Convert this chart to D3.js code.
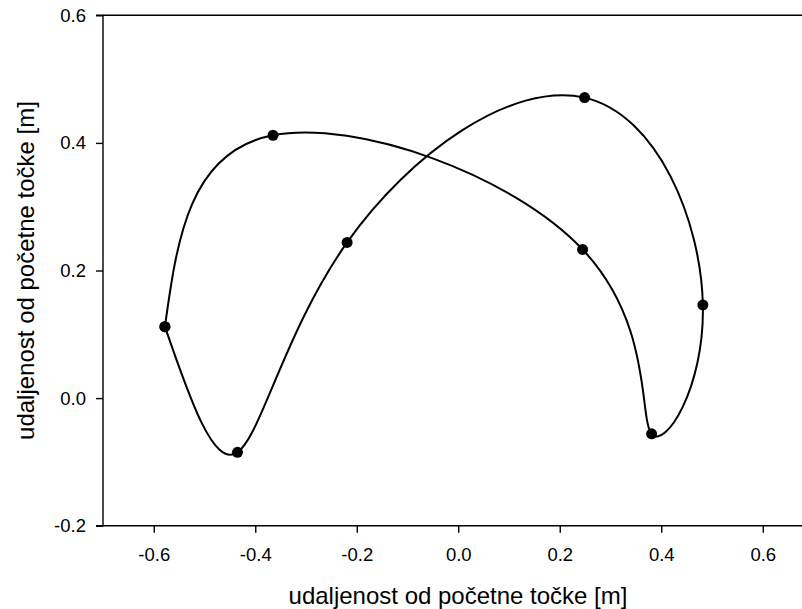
<!DOCTYPE html>
<html>
<head>
<meta charset="utf-8">
<script src="https://cdn.jsdelivr.net/npm/d3@7/dist/d3.min.js"></script>
<style>
  html, body { margin: 0; padding: 0; background: #fff; overflow: hidden; }
  svg { display: block; }
  text { font-family: "Liberation Sans", Arial, sans-serif; fill: #000; }
</style>
</head>
<body>
<svg id="chart" width="802" height="609"></svg>
<script>
// Path of the starting point, sampled in order; the walk returns to the first sample (metres)
const xValues = [-0.578, -0.435, -0.219, 0.249, 0.482, 0.381, 0.245, -0.365, -0.578];
const yValues = [0.112, -0.085, 0.244, 0.471, 0.146, -0.056, 0.233, 0.412, 0.112];

const xTicks = [-0.6, -0.4, -0.2, 0.0, 0.2, 0.4, 0.6];
const yTicks = [-0.2, 0.0, 0.2, 0.4, 0.6];

const xTitle = "udaljenost od početne točke [m]";
const yTitle = "udaljenost od početne točke [m]";

const svg = d3.select("#chart");

const plotLeft = 103, plotRight = 813.5, plotTop = 15.3, plotBottom = 525.7;

const x = d3.scaleLinear().domain([-0.7, 0.7]).range([plotLeft, plotRight]);
const y = d3.scaleLinear().domain([-0.2, 0.6]).range([plotBottom, plotTop]);

const fmt = v => d3.format(".1f")(v).replace("\u2212", "-");

// frame (top and right edges)
svg.append("path")
  .attr("d", `M${plotLeft},${plotTop}H${plotRight}V${plotBottom}`)
  .attr("fill", "none")
  .attr("stroke", "#000")
  .attr("stroke-width", 1.4);

// axes
const xAxis = d3.axisBottom(x).tickValues(xTicks).tickFormat(fmt).tickSize(7).tickPadding(15);
const yAxis = d3.axisLeft(y).tickValues(yTicks).tickFormat(fmt).tickSize(7).tickPadding(10);

const gx = svg.append("g").attr("transform", `translate(0,${plotBottom})`).call(xAxis);
const gy = svg.append("g").attr("transform", `translate(${plotLeft},0)`).call(yAxis);

[gx, gy].forEach(g => {
  g.select(".domain").attr("stroke", "#000").attr("stroke-width", 1.4);
  g.selectAll(".tick line").attr("stroke", "#000").attr("stroke-width", 1.4);
  g.selectAll(".tick text")
    .style("font-family", "'Liberation Sans', Arial, sans-serif")
    .style("font-size", "18.5px")
    .attr("fill", "#000");
});
// y-axis line with its end ticks, bottom axis line across the plot
gy.select(".domain").attr("d", `M-7,${plotTop}H0V${plotBottom}H-7`);
gx.select(".domain").attr("d", `M${plotLeft},0H${plotRight}`);

// axis titles
svg.append("text")
  .attr("x", 458)
  .attr("y", 604)
  .attr("text-anchor", "middle")
  .style("font-size", "24px")
  .text(xTitle);

svg.append("text")
  .attr("transform", `translate(34,${(plotTop + plotBottom) / 2}) rotate(-90)`)
  .attr("text-anchor", "middle")
  .style("font-size", "24px")
  .text(yTitle);

// smooth spline through the samples in order
const pts = xValues.map((v, i) => [v, yValues[i]]);

const line = d3.line()
  .x(d => x(d[0]))
  .y(d => y(d[1]))
  .curve(d3.curveNatural);

svg.append("path")
  .datum(pts)
  .attr("d", line)
  .attr("fill", "none")
  .attr("stroke", "#000")
  .attr("stroke-width", 2);

svg.selectAll("circle.pt")
  .data(pts)
  .join("circle")
  .attr("class", "pt")
  .attr("cx", d => x(d[0]))
  .attr("cy", d => y(d[1]))
  .attr("r", 5.5)
  .attr("fill", "#000");
</script>
</body>
</html>
